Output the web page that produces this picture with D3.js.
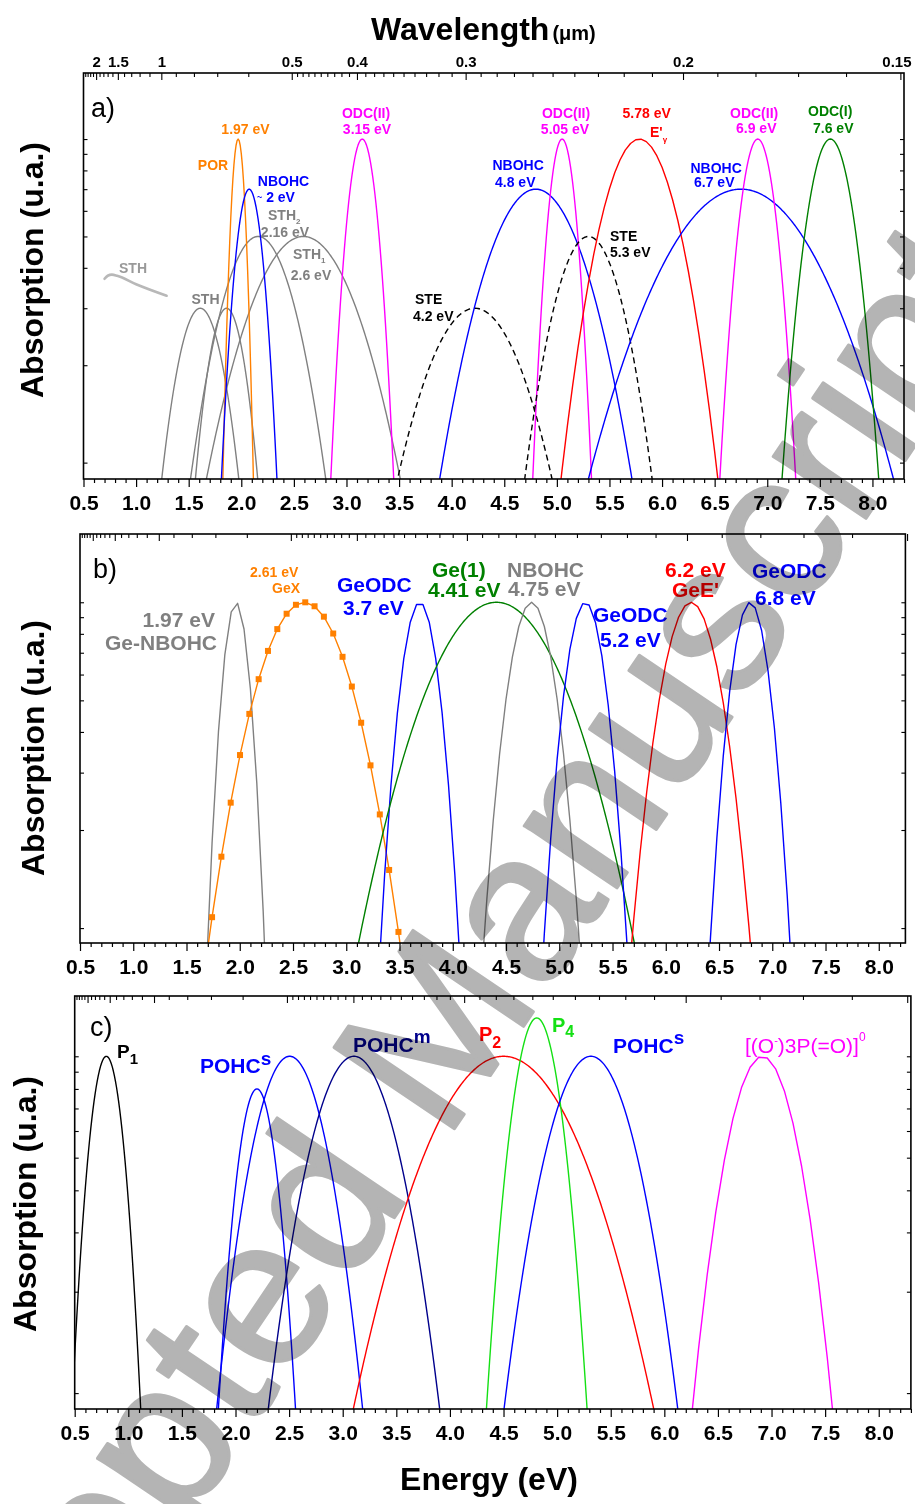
<!DOCTYPE html>
<html><head><meta charset="utf-8">
<script src="https://cdn.jsdelivr.net/npm/d3@7"></script>
<style>
body{margin:0;background:#fff}
svg{display:block}
text{font-family:"Liberation Sans",Arial,Helvetica,sans-serif}
</style>
</head><body>
<svg id="chart" width="915" height="1504"></svg>
<script>
// ---------------- DATA ----------------
const energyMajor = [0.5,1.0,1.5,2.0,2.5,3.0,3.5,4.0,4.5,5.0,5.5,6.0,6.5,7.0,7.5,8.0];
const wavelengthLabels = [2,1.5,1,0.5,0.4,0.3,0.2,0.15];
const wavelengthMinor = [2.4,2.3,2.2,2.1,1.9,1.8,1.7,1.6,1.4,1.3,1.2,1.1,0.9,0.8,0.7,0.6,
  0.49,0.48,0.47,0.46,0.45,0.44,0.43,0.42,0.41,0.39,0.38,0.37,0.36,0.35,0.34,0.33,0.32,0.31,
  0.29,0.28,0.27,0.26,0.25,0.24,0.23,0.22,0.21,0.19,0.18,0.17,0.16];
const absorptionTicks = [1,2,3,4,5,6,7,8,9,10];

// Gaussian bands: centre (eV), peak height (u.a.), sigma (eV)
const bandsA = [
  {name:"STH_a",   center:1.61,  peak:3,  sigma:0.235},
  {name:"STH_b",   center:1.86,  peak:3,  sigma:0.19},
  {name:"STH2",    center:2.16,  peak:5,  sigma:0.346},
  {name:"STH1",    center:2.59,  peak:5,  sigma:0.496},
  {name:"POR",     center:1.97,  peak:10, sigma:0.066},
  {name:"NBOHC2",  center:2.075, peak:7,  sigma:0.130},
  {name:"ODC315",  center:3.15,  peak:10, sigma:0.136},
  {name:"STE42",   center:4.22,  peak:3,  sigma:0.471},
  {name:"NBOHC48", center:4.80,  peak:7,  sigma:0.450},
  {name:"ODC505",  center:5.05,  peak:10, sigma:0.127},
  {name:"STE53",   center:5.30,  peak:5,  sigma:0.326},
  {name:"Eg",      center:5.785, peak:10, sigma:0.339},
  {name:"NBOHC67", center:6.75,  peak:7,  sigma:0.714},
  {name:"ODC69",   center:6.91,  peak:10, sigma:0.164},
  {name:"ODCI",    center:7.60,  peak:10, sigma:0.209}
];
// measured STH tail (energy eV, absorption u.a.)
const sthTailA = [[0.70,3.70],[0.73,3.78],[0.77,3.81],[0.82,3.78],[1.0,3.56],[1.29,3.28]];

const bandsB = [
  {name:"GeNBOHC",  center:1.965, peak:10, sigma:0.122},
  {name:"GeX",      center:2.605, peak:10, sigma:0.41},
  {name:"GeODC37",  center:3.69,  peak:10, sigma:0.168},
  {name:"Ge1",      center:4.41,  peak:10, sigma:0.590},
  {name:"NBOHC475", center:4.74,  peak:10, sigma:0.205},
  {name:"GeODC52",  center:5.245, peak:10, sigma:0.178},
  {name:"GeE",      center:6.237, peak:10, sigma:0.254},
  {name:"GeODC68",  center:6.792, peak:10, sigma:0.171}
];
const gexMarkers = [1.74,1.8275,1.915,2.0025,2.09,2.1775,2.265,2.3525,2.44,2.5275,2.615,
  2.7025,2.79,2.8775,2.965,3.0525,3.14,3.2275,3.315,3.4025,3.49];

const bandsC = [
  {name:"P1",      center:0.795, peak:10, sigma:0.146},
  {name:"POHCs_a", center:2.20,  peak:8,  sigma:0.172},
  {name:"POHCs_b", center:2.505, peak:10, sigma:0.310},
  {name:"POHCm",   center:3.105, peak:10, sigma:0.364},
  {name:"P2",      center:4.50,  peak:10, sigma:0.638},
  {name:"P4",      center:4.81,  peak:13, sigma:0.203},
  {name:"POHCs_c", center:5.315, peak:10, sigma:0.369},
  {name:"O3PO",    center:6.915, peak:10, sigma:0.298}
];

// ---------------- STYLES / LAYOUT ----------------
const C = {gray:"#808080", orange:"#ff8000", blue:"#0000ff", mag:"#ff00ff", red:"#ff0000",
  green:"#008000", black:"#000000", navy:"#00008c", lime:"#14e014"};
const styleA = {
  STH_a:{c:C.gray}, STH_b:{c:C.gray}, STH2:{c:C.gray}, STH1:{c:C.gray},
  POR:{c:C.orange}, NBOHC2:{c:C.blue}, ODC315:{c:C.mag}, STE42:{c:C.black,dash:"6,4"},
  NBOHC48:{c:C.blue}, ODC505:{c:C.mag}, STE53:{c:C.black,dash:"6,4"}, Eg:{c:C.red,step:0.05},
  NBOHC67:{c:C.blue}, ODC69:{c:C.mag}, ODCI:{c:C.green}
};
const styleB = {
  GeNBOHC:{c:C.gray,step:0.06}, GeX:{c:C.orange}, GeODC37:{c:C.blue,step:0.06},
  Ge1:{c:C.green}, NBOHC475:{c:C.gray,step:0.06}, GeODC52:{c:C.blue,step:0.06},
  GeE:{c:C.red,step:0.06}, GeODC68:{c:C.blue,step:0.06}
};
const styleC = {
  P1:{c:C.black}, POHCs_a:{c:C.blue}, POHCs_b:{c:C.blue}, POHCm:{c:C.navy},
  P2:{c:C.red}, P4:{c:C.lime}, POHCs_c:{c:C.blue}, O3PO:{c:C.mag,step:0.08}
};

const panels = {
  a:{x:[83.5,904], y:[479,73],  xd:[0.5,8.3],  yd:[0.89,16],   ylab:{x:43,y:270}},
  b:{x:[80,905.4], y:[943,534], xd:[0.5,8.25], yd:[0.9,16.2],  ylab:{x:44,y:748}},
  c:{x:[74.7,910.9], y:[1409,996], xd:[0.5,8.3], yd:[0.897,15.1], ylab:{x:36,y:1204}}
};

// annotation text: [x, y, anchor, size, colour, weight, parts]
const labelsA = [
  [91,117,"start",27,C.black,"normal",[["a)"]]],
  [245.5,134,"middle",14,C.orange,"bold",[["1.97 eV"]]],
  [213,170,"middle",14,C.orange,"bold",[["POR"]]],
  [283.5,186,"middle",14,C.blue,"bold",[["NBOHC"]]],
  [257,202,"start",14,C.blue,"bold",[["~",9,-2],[" 2 eV",null,0]]],
  [268,220,"start",14,C.gray,"bold",[["STH"],["2",8,4]]],
  [285,236.5,"middle",14,C.gray,"bold",[["2.16 eV"]]],
  [293,259,"start",14,C.gray,"bold",[["STH"],["1",8,4]]],
  [311,280,"middle",14,C.gray,"bold",[["2.6 eV"]]],
  [119,273,"start",14,"#999999","bold",[["STH"]]],
  [191.5,304,"start",14,C.gray,"bold",[["STH"]]],
  [366,117.5,"middle",14,C.mag,"bold",[["ODC(II)"]]],
  [367,133.5,"middle",14,C.mag,"bold",[["3.15 eV"]]],
  [415,304,"start",14,C.black,"bold",[["STE"]]],
  [413,320.5,"start",14,C.black,"bold",[["4.2 eV"]]],
  [492.5,170,"start",14,C.blue,"bold",[["NBOHC"]]],
  [495,186.5,"start",14,C.blue,"bold",[["4.8 eV"]]],
  [566,118,"middle",14,C.mag,"bold",[["ODC(II)"]]],
  [565,133.5,"middle",14,C.mag,"bold",[["5.05 eV"]]],
  [622.5,117.5,"start",14,C.red,"bold",[["5.78 eV"]]],
  [650,137,"start",14,C.red,"bold",[["E'"],["\u03b3",8,5]]],
  [610,240.5,"start",14,C.black,"bold",[["STE"]]],
  [610,256.5,"start",14,C.black,"bold",[["5.3 eV"]]],
  [690.5,173,"start",14,C.blue,"bold",[["NBOHC"]]],
  [694,186.5,"start",14,C.blue,"bold",[["6.7 eV"]]],
  [730,118,"start",14,C.mag,"bold",[["ODC(II)"]]],
  [736,133,"start",14,C.mag,"bold",[["6.9 eV"]]],
  [808,116,"start",14,C.green,"bold",[["ODC(I)"]]],
  [813,133,"start",14,C.green,"bold",[["7.6 eV"]]]
];
const labelsB = [
  [93,578,"start",27,C.black,"normal",[["b)"]]],
  [250,577,"start",14,C.orange,"bold",[["2.61 eV"]]],
  [272,593,"start",14,C.orange,"bold",[["GeX"]]],
  [337,592,"start",21,C.blue,"bold",[["GeODC"]]],
  [343,615,"start",21,C.blue,"bold",[["3.7 eV"]]],
  [432,577,"start",21,C.green,"bold",[["Ge(1)"]]],
  [428,597,"start",21,C.green,"bold",[["4.41 eV"]]],
  [215,627,"end",21,C.gray,"bold",[["1.97 eV"]]],
  [217,650,"end",21,C.gray,"bold",[["Ge-NBOHC"]]],
  [507,577,"start",21,C.gray,"bold",[["NBOHC"]]],
  [508,596,"start",21,C.gray,"bold",[["4.75 eV"]]],
  [593,622,"start",21,C.blue,"bold",[["GeODC"]]],
  [600,647,"start",21,C.blue,"bold",[["5.2 eV"]]],
  [665,577,"start",21,C.red,"bold",[["6.2 eV"]]],
  [672,597,"start",21,C.red,"bold",[["GeE'"]]],
  [752,578,"start",21,C.blue,"bold",[["GeODC"]]],
  [755,605,"start",21,C.blue,"bold",[["6.8 eV"]]]
];
const labelsC = [
  [90,1036,"start",27,C.black,"normal",[["c)"]]],
  [117,1058,"start",19,C.black,"bold",[["P"],["1",15,6]]],
  [200,1073,"start",21,C.blue,"bold",[["POHC"],["s",19,-8]]],
  [353,1052,"start",21,C.navy,"bold",[["POHC"],["m",19,-9]]],
  [479,1041,"start",20,C.red,"bold",[["P"],["2",16,7]]],
  [552,1032,"start",20,C.lime,"bold",[["P"],["4",16,5]]],
  [613,1053,"start",21,C.blue,"bold",[["POHC"],["s",19,-9]]],
  [745,1053,"start",21,C.mag,"normal",[["[(O"],["-",11,-9],[")3P(=O)]",null,0],["0",12,-12]]]
];

// ---------------- DRAWING ----------------
const HC = 1.23984; // eV*um
const svg = d3.select("#chart");
const plotLayer = svg.append("g");
const textLayer = svg.append("g");

function gauss(b, E){ return b.peak*Math.exp(-((E-b.center)**2)/(2*b.sigma*b.sigma)); }
function samples(b, step){
  const lo = b.center-3.3*b.sigma, hi = b.center+3.3*b.sigma;
  const start = Math.floor(lo/step)*step;
  return d3.range(start, hi+step, step).map(E=>[E, gauss(b,E)]);
}

function addLabel(g, L){
  const [x,y,anchor,size,color,weight,parts] = L;
  const t = g.append("text").attr("x",x).attr("y",y).attr("text-anchor",anchor)
    .attr("font-size",size).attr("font-weight",weight).attr("fill",color);
  let cur = 0;
  parts.forEach(p=>{
    const shift = p[2]==null ? 0 : p[2];
    const ts = t.append("tspan").attr("dy", shift-cur).text(p[0]);
    if(p[1]) ts.attr("font-size",p[1]);
    cur = shift;
  });
}

function drawPanel(key, bands, styles, labels, opts){
  const P = panels[key];
  const x = d3.scaleLinear().domain(P.xd).range(P.x);
  const y = d3.scaleLog().domain(P.yd).range(P.y);
  const g = plotLayer.append("g");
  const clipId = "clip-"+key;
  svg.append("defs").append("clipPath").attr("id",clipId).append("rect")
    .attr("x",P.x[0]).attr("y",P.y[1]).attr("width",P.x[1]-P.x[0]).attr("height",P.y[0]-P.y[1]);
  const plot = g.append("g").attr("clip-path",`url(#${clipId})`);
  const line = d3.line().x(d=>x(d[0])).y(d=>y(Math.max(d[1],1e-6)));

  if(opts && opts.tail){
    plot.append("path").datum(opts.tail).attr("fill","none").attr("stroke","#b8b8b8")
      .attr("stroke-width",2.6).attr("stroke-linecap","round")
      .attr("d", d3.line().x(d=>x(d[0])).y(d=>y(d[1])).curve(d3.curveMonotoneX));
  }
  bands.forEach(b=>{
    const st = styles[b.name];
    let pts;
    if(opts && opts.markers && b.name===opts.markers.band){
      const m = opts.markers.list;
      const step = m[1]-m[0];
      pts = [[m[0]-step, gauss(b,m[0]-step)], ...m.map(E=>[E,gauss(b,E)]), [m[m.length-1]+step, gauss(b,m[m.length-1]+step)]];
    } else {
      pts = samples(b, st.step || 0.01);
    }
    plot.append("path").datum(pts).attr("fill","none").attr("stroke",st.c)
      .attr("stroke-width",1.4).attr("stroke-linejoin","round")
      .attr("stroke-dasharray", st.dash||null).attr("d", line);
    if(opts && opts.markers && b.name===opts.markers.band){
      plot.selectAll(null).data(opts.markers.list).enter().append("rect")
        .attr("x",E=>x(E)-3).attr("y",E=>y(gauss(b,E))-3).attr("width",6).attr("height",6)
        .attr("fill",st.c);
    }
  });

  // frame
  g.append("rect").attr("x",P.x[0]).attr("y",P.y[1]).attr("width",P.x[1]-P.x[0])
    .attr("height",P.y[0]-P.y[1]).attr("fill","none").attr("stroke","#000").attr("stroke-width",1.6);

  // bottom energy axis
  const energyMinor = d3.range(5,84).map(i=>i/10).filter(v=>Math.round(v*10)%5!==0 && v<=P.xd[1]);
  const bMin = g.append("g").attr("transform",`translate(0,${P.y[0]})`)
    .call(d3.axisBottom(x).tickValues(energyMinor).tickSize(4).tickFormat(""));
  const bMaj = g.append("g").attr("transform",`translate(0,${P.y[0]})`)
    .call(d3.axisBottom(x).tickValues(energyMajor).tickSize(8).tickPadding(8).tickFormat(d3.format(".1f")));
  [bMin,bMaj].forEach(a=>{a.select(".domain").remove(); a.selectAll("line").attr("stroke","#000").attr("stroke-width",1.2);});
  bMaj.selectAll("text").attr("font-size",21).attr("font-weight","bold").attr("fill","#000")
    .attr("font-family",'"Liberation Sans",Arial,sans-serif');

  // top wavelength ticks (inward)
  const tMin = g.append("g").attr("transform",`translate(0,${P.y[1]})`)
    .call(d3.axisTop(x).tickValues(wavelengthMinor.map(l=>HC/l)).tickSizeInner(-4).tickSizeOuter(0).tickFormat(""));
  const tMaj = g.append("g").attr("transform",`translate(0,${P.y[1]})`)
    .call(d3.axisTop(x).tickValues(wavelengthLabels.map(l=>HC/l)).tickSizeInner(-7).tickSizeOuter(0).tickPadding(6)
      .tickFormat((d,i)=> opts && opts.wlLabels ? String(wavelengthLabels[i]) : ""));
  [tMin,tMaj].forEach(a=>{a.select(".domain").remove(); a.selectAll("line").attr("stroke","#000").attr("stroke-width",1.1);});
  tMaj.selectAll("text").attr("font-size",15).attr("font-weight","bold").attr("fill","#000")
    .attr("font-family",'"Liberation Sans",Arial,sans-serif');
  tMaj.selectAll(".tick").filter((d,i)=>i===wavelengthLabels.length-1).select("text").attr("dx",-4);

  // absorption ticks both sides (inward)
  const lA = g.append("g").attr("transform",`translate(${P.x[0]},0)`)
    .call(d3.axisRight(y).tickValues(absorptionTicks).tickSize(4).tickFormat(""));
  const rA = g.append("g").attr("transform",`translate(${P.x[1]},0)`)
    .call(d3.axisLeft(y).tickValues(absorptionTicks).tickSize(4).tickFormat(""));
  [lA,rA].forEach(a=>{a.select(".domain").remove(); a.selectAll("line").attr("stroke","#000").attr("stroke-width",1.1);});

  // y title
  textLayer.append("text").attr("transform",`translate(${P.ylab.x},${P.ylab.y}) rotate(-90)`)
    .attr("text-anchor","middle").attr("font-size",32).attr("font-weight","bold").text("Absorption (u.a.)");

  labels.forEach(L=>addLabel(textLayer, L));
}

drawPanel("a", bandsA, styleA, labelsA, {tail:sthTailA, wlLabels:true});
drawPanel("b", bandsB, styleB, labelsB, {markers:{band:"GeX", list:gexMarkers}});
drawPanel("c", bandsC, styleC, labelsC, {});

// axis titles
const wt = textLayer.append("text").attr("x",371).attr("y",40).attr("font-size",32).attr("font-weight","bold");
wt.append("tspan").text("Wavelength");
wt.append("tspan").attr("dx",3).attr("font-size",20).text("(\u03bcm)");
textLayer.append("text").attr("x",489).attr("y",1490).attr("text-anchor","middle")
  .attr("font-size",32).attr("font-weight","bold").text("Energy (eV)");

// watermark
svg.append("text").attr("transform","translate(-80,1921) rotate(-56)")
  .attr("font-size",211).attr("fill","#b4b4b4").attr("stroke","#b4b4b4").attr("stroke-width",3)
  .attr("stroke-linejoin","round").style("mix-blend-mode","multiply")
  .text("Accepted Manuscript");
</script>
</body></html>
